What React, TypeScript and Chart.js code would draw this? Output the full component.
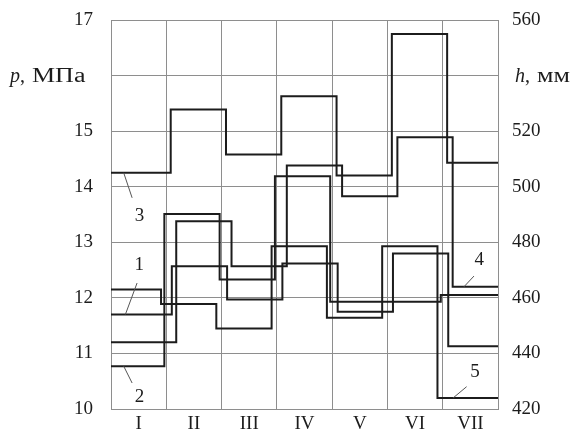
import React, { useEffect, useRef } from 'react';
import { Chart, registerables } from 'chart.js';

Chart.register(...registerables);

// ---- data ----
const categories = ['I', 'II', 'III', 'IV', 'V', 'VI', 'VII'];
const pTickValues = [10, 11, 12, 13, 14, 15, 16, 17];
const hTickValues = [420, 440, 460, 480, 500, 520, 540, 560];
const seriesNames = ['1', '2', '3', '4', '5'];
// pressure p, MPa (left axis)
const series1P = [11.7, 12.57, 11.97, 12.62, 11.75, 12.8, 11.13];
const series2P = [10.77, 13.51, 12.33, 14.19, 11.93, 11.93, 12.05];
const series3P = [14.25, 15.39, 14.58, 15.63, 14.2, 16.75, 14.43];
// height h, mm (right axis)
const series4H = [444, 487.6, 471.4, 507.6, 496.6, 517.8, 464];
const series5H = [463, 457.8, 449, 478.6, 452.8, 478.6, 424];

// ---- styles ----
const FONT = '"Liberation Serif", "Times New Roman", serif';
const FS = 19;
const INK = '#1c1c1c';
const GRID = '#8e8e8e';
// small horizontal stagger of each series' steps (category units)
const stepShift = [0.1, -0.035, 0.08, 0.18, -0.095];

function stepPoints(values: number[], shift: number) {
  const pts = [{ x: 0, y: values[0] }];
  for (let i = 1; i < values.length; i++) pts.push({ x: i + shift, y: values[i] });
  pts.push({ x: values.length, y: values[values.length - 1] });
  return pts;
}

// label leader annotations: anchor on series at (cat+frac), leader vector, text offset
const labelMarks = [
  { s: 0, cat: 0, frac: 0.26, dx: 11.7, dy: -31.5, tdx: 14, tdy: -49.5 },
  { s: 1, cat: 0, frac: 0.23, dx: 8.4, dy: 16.8, tdx: 15.7, tdy: 30.8 },
  { s: 2, cat: 0, frac: 0.23, dx: 8.4, dy: 25, tdx: 15.7, tdy: 43 },
  { s: 3, cat: 6, frac: 0.385, dx: 10, dy: -10.7, tdx: 15.3, tdy: -26.7 },
  { s: 4, cat: 6, frac: 0.19, dx: 13.4, dy: -11.2, tdx: 21.7, tdy: -26.2 },
];

const allSeries = [series1P, series2P, series3P, series4H, series5H];
const axisOf = ['p', 'p', 'p', 'h', 'h'];

function drawTitle(ctx: any, x: number, y: number, sym: string, rest: string) {
  ctx.font = `italic 20px ${FONT}`;
  ctx.fillText(sym, x, y);
  x += ctx.measureText(sym).width;
  ctx.font = `20px ${FONT}`;
  ctx.fillText(',', x, y);
  x += ctx.measureText(', ').width + 2;
  ctx.save();
  ctx.translate(x, y);
  ctx.scale(1.3, 1);
  ctx.fillText(rest, 0, 0);
  ctx.restore();
}

const overlayPlugin = {
  id: 'overlay',
  afterDatasetsDraw(chart: any) {
    const ctx = chart.ctx;
    const xs = chart.scales.x;
    ctx.save();
    // series labels with leader lines
    labelMarks.forEach((m) => {
      const ys = chart.scales[axisOf[m.s]];
      const ax = xs.getPixelForValue(m.cat + m.frac);
      const ay = ys.getPixelForValue(allSeries[m.s][m.cat]);
      ctx.strokeStyle = '#555';
      ctx.lineWidth = 1;
      ctx.beginPath();
      ctx.moveTo(ax, ay);
      ctx.lineTo(ax + m.dx, ay + m.dy);
      ctx.stroke();
      ctx.fillStyle = INK;
      ctx.font = `${FS}px ${FONT}`;
      ctx.textAlign = 'center';
      ctx.textBaseline = 'middle';
      ctx.fillText(seriesNames[m.s], ax + m.tdx, ay + m.tdy);
    });
    // axis titles in place of the 16 / 540 tick labels
    ctx.textBaseline = 'middle';
    ctx.textAlign = 'left';
    ctx.fillStyle = INK;
    drawTitle(ctx, 10, chart.scales.p.getPixelForValue(16) + 1, 'p', 'МПа');
    drawTitle(ctx, 515, chart.scales.h.getPixelForValue(540) + 1, 'h', 'мм');
    ctx.restore();
  },
};

const noPad = (s: any) => { s.paddingTop = 0; s.paddingBottom = 0; };

export default function App() {
  const ref = useRef<HTMLCanvasElement | null>(null);
  useEffect(() => {
    if (!ref.current) return;
    const datasets = allSeries.map((vals, i) => ({
      label: seriesNames[i],
      data: stepPoints(vals, stepShift[i]),
      yAxisID: axisOf[i],
      xAxisID: 'x',
      stepped: true as const,
      borderColor: INK,
      borderWidth: 2,
      pointRadius: 0,
      fill: false,
    }));
    const chart = new Chart(ref.current, {
      type: 'line',
      data: { datasets },
      plugins: [overlayPlugin],
      options: {
        animation: false,
        responsive: true,
        maintainAspectRatio: false,
        layout: { padding: { top: 20, left: 0, right: 0, bottom: 0 } },
        plugins: { legend: { display: false }, tooltip: { enabled: false } },
        scales: {
          x: {
            type: 'linear',
            position: 'bottom',
            min: 0,
            max: categories.length,
            afterBuildTicks: (s: any) => {
              s.ticks = categories.map((_, i) => ({ value: i })).concat([{ value: categories.length }]);
            },
            ticks: { display: false },
            grid: { color: GRID, lineWidth: 1, drawTicks: false },
            border: { color: GRID },
            afterFit: (s: any) => { s.height = 0; s.paddingLeft = 0; s.paddingRight = 0; },
          },
          cat: {
            type: 'category',
            position: 'bottom',
            labels: categories,
            offset: true,
            grid: { display: false, drawTicks: false },
            border: { display: false },
            ticks: { color: INK, font: { family: FONT, size: FS }, padding: 4, maxRotation: 0 },
            afterFit: (s: any) => { s.height = 25; s.paddingLeft = 0; s.paddingRight = 0; },
          },
          p: {
            type: 'linear',
            position: 'left',
            min: 10,
            max: 17,
            afterBuildTicks: (s: any) => { s.ticks = pTickValues.map((v) => ({ value: v })); },
            ticks: {
              color: INK,
              font: { family: FONT, size: FS },
              padding: 18,
              callback: (v: any) => (v === 16 ? '' : String(v)),
            },
            grid: { color: GRID, lineWidth: 1, drawTicks: false },
            border: { color: GRID },
            afterFit: (s: any) => { s.width = 111; noPad(s); },
          },
          h: {
            type: 'linear',
            position: 'right',
            min: 420,
            max: 560,
            afterBuildTicks: (s: any) => { s.ticks = hTickValues.map((v) => ({ value: v })); },
            ticks: {
              color: INK,
              font: { family: FONT, size: FS },
              padding: 14,
              callback: (v: any) => (v === 540 ? '' : String(v)),
            },
            grid: { display: false, drawTicks: false },
            border: { color: GRID },
            afterFit: (s: any) => { s.width = 85; noPad(s); },
          },
        },
      },
    });
    return () => chart.destroy();
  }, []);
  return (
    <div style={{ position: 'absolute', left: 0, top: 0, width: 583, height: 434, background: '#fff' }}>
      <canvas ref={ref} />
    </div>
  );
}
